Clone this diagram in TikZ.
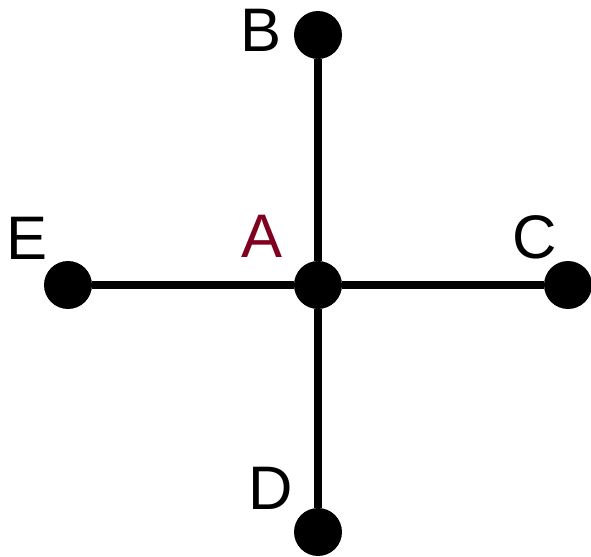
\documentclass[tikz,border=0pt]{standalone}
\usepackage{fontspec}
\setmainfont{Liberation Sans}
\usetikzlibrary{positioning}
\definecolor{centerred}{RGB}{128,0,32}
\tikzset{
  vertex/.style={circle, fill=black, minimum size=27.3pt, inner sep=0pt},
  spoke/.style={line width=4pt},
  vname/.style={font=\fontsize{35}{42}\selectfont, inner sep=0pt}
}
\begin{document}
\begin{tikzpicture}[x=0.02cm, y=-0.02cm]
    \useasboundingbox (0,0) rectangle (591,557);

    % vertices
    \node[vertex] (A) at (318,285) {};
    \node[vertex] (B) at (318,35) {};
    \node[vertex] (C) at (568,285) {};
    \node[vertex] (D) at (318,532) {};
    \node[vertex] (E) at (68,285) {};

    % spokes
    \draw[spoke] (A) -- (B);
    \draw[spoke] (A) -- (C);
    \draw[spoke] (A) -- (D);
    \draw[spoke] (A) -- (E);

    % names
    \node[vname, text=centerred] (nameA) at (262,236) {A};
    \node[vname] (nameB) at (261,30) {B};
    \node[vname] (nameC) at (535,237) {C};
    \node[vname] (nameD) at (271,488) {D};
    \node[vname] (nameE) at (27,238) {E};

\end{tikzpicture}
\end{document}
